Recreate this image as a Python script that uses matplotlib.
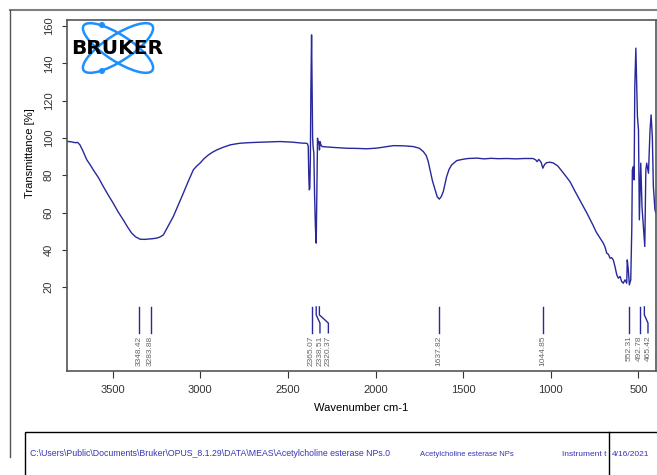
import matplotlib.pyplot as plt
import numpy as np
from matplotlib.patches import Ellipse, Circle, Rectangle
from matplotlib.lines import Line2D

plt.rcParams['font.family'] = ['Liberation Sans', 'DejaVu Sans']

# FTIR spectrum - Acetylcholine esterase NPs
wavenumber = [3762, 3740, 3715, 3700, 3687, 3670, 3648, 3630, 3611, 3580, 3554, 3525,
              3497, 3470, 3440, 3415, 3392, 3370, 3344, 3320, 3295, 3270, 3249, 3230,
              3211, 3185, 3154, 3125, 3097, 3070, 3040, 3020, 3002, 2980, 2954, 2930,
              2906, 2870, 2830, 2800, 2772, 2720, 2669, 2600, 2545, 2480, 2412, 2395,
              2388, 2384, 2381, 2378, 2375, 2372, 2369, 2365, 2362, 2359, 2356, 2352,
              2348, 2343, 2338.5, 2335, 2331, 2327, 2323, 2320, 2316, 2312, 2305, 2250,
              2164, 2100, 2050, 1990, 1940, 1898, 1840, 1784, 1750, 1727, 1710, 1699,
              1689, 1675, 1660, 1648, 1636, 1625, 1613, 1594, 1580, 1565, 1536, 1500,
              1472, 1420, 1380, 1340, 1300, 1250, 1200, 1150, 1101, 1085, 1078, 1068,
              1055, 1045, 1035, 1022, 1004, 985, 960, 930, 890, 860, 830, 794,
              760, 740, 718, 700, 690, 680, 670, 661, 652, 643, 633, 623,
              614, 604, 595, 586, 576, 566, 563, 557, 551, 543, 537, 534,
              528, 524, 520, 514, 510, 505, 499, 494, 486, 479, 471, 463,
              457, 452, 442, 433, 427, 420, 414, 405, 399]
transmittance = [98.2, 98.0, 97.5, 97.6, 96.3, 93.0, 88.3, 85.8, 82.9, 78.5, 74.0, 69.3,
                 65.0, 60.5, 56.1, 52.2, 49.0, 47.0, 45.7, 45.6, 45.8, 46.0, 46.3, 46.9,
                 48.0, 52.5, 57.9, 64.2, 70.4, 76.5, 82.9, 85.0, 86.5, 88.8, 90.9, 92.4,
                 93.6, 95.0, 96.3, 96.8, 97.2, 97.5, 97.7, 97.9, 98.1, 97.8, 97.2, 97.2,
                 96.8, 95.5, 80.0, 72.2, 73.0, 88.0, 125.0, 155.3, 128.0, 100.0, 95.0, 92.0,
                 70.0, 52.0, 43.6, 70.0, 99.9, 97.0, 98.0, 93.6, 98.0, 96.3, 95.4, 95.0,
                 94.5, 94.4, 94.2, 94.6, 95.3, 95.9, 95.8, 95.4, 94.5, 92.7, 90.5, 87.3,
                 82.9, 77.0, 72.2, 68.5, 67.2, 68.5, 71.3, 79.3, 83.2, 85.6, 87.9, 88.6,
                 89.0, 89.2, 88.8, 89.1, 88.9, 89.0, 88.8, 89.0, 89.0, 88.2, 87.3, 88.5,
                 87.0, 83.8, 85.8, 86.8, 87.0, 86.6, 85.0, 81.5, 76.6, 71.2, 66.0, 59.8,
                 53.5, 49.5, 46.3, 43.6, 41.5, 38.2, 37.5, 35.5, 35.8, 34.6, 31.0, 26.6,
                 24.8, 25.7, 23.0, 22.1, 23.9, 22.1, 34.6, 29.3, 21.2, 23.9, 52.5, 82.9,
                 84.7, 77.5, 127.6, 148.2, 131.2, 111.5, 104.4, 56.1, 86.5, 63.2, 52.5, 41.8,
                 82.9, 86.5, 81.1, 104.4, 112.4, 100.8, 74.0, 61.4, 59.7]

# picked peaks
peak_wn = [3348.42, 3283.88, 2365.07, 2338.51, 2320.37, 1637.82, 1044.85, 552.31, 492.78, 465.42]

x_ticks = [3500, 3000, 2500, 2000, 1500, 1000, 500]
y_ticks = [20, 40, 60, 80, 100, 120, 140, 160]

file_path = r'C:\Users\Public\Documents\Bruker\OPUS_8.1.29\DATA\MEAS\Acetylcholine esterase NPs.0'
sample_name = 'Acetylcholine esterase NPs'
instrument = 'Instrument t'
meas_date = '4/16/2021'

W, H = 657, 475
curve_color = '#28289c'
info_color = '#3535b5'

fig = plt.figure(figsize=(W / 100, H / 100), dpi=100)
ax = fig.add_axes([67 / W, 1 - 371 / H, 589 / W, 351 / H])

ax.plot(wavenumber, transmittance, color=curve_color, lw=1.0)
ax.set_xlim(3761, 399)
ax.set_ylim(-25, 163.3)
ax.set_xticks(x_ticks)
ax.set_yticks(y_ticks)
ax.tick_params(axis='both', labelsize=8, colors='#333333', direction='out')
ax.tick_params(axis='x', length=5, pad=5)
ax.tick_params(axis='y', length=3.6, pad=6, labelrotation=90)
for lbl in ax.get_yticklabels():
    lbl.set_va('center')
for sp in ax.spines.values():
    sp.set_color('#555555')
    sp.set_linewidth(1.2)
ax.set_xlabel('Wavenumber cm-1', fontsize=8, labelpad=6)
ax.set_ylabel('Transmittance [%]', fontsize=8)
ax.yaxis.set_label_coords(-0.055, 0.621)

# peak markers, labels pushed apart when too close
min_gap = 48
label_pos = []
for w in peak_wn:
    if label_pos and label_pos[-1] - w < min_gap:
        label_pos.append(min(w, label_pos[-1] - min_gap))
    else:
        label_pos.append(w)
for w, p in zip(peak_wn, label_pos):
    ax.plot([w, w, p, p], [9.4, 5.1, 0.7, -4.5], color=curve_color, lw=1.0)
    ax.text(p, -6.0, '%.2f' % w, rotation=90, ha='center', va='top',
            fontsize=6, color='#666666')

# Bruker logo
lax = fig.add_axes([68 / W, 1 - 76 / H, 100 / W, 56 / H])
lax.set_xlim(0, 100)
lax.set_ylim(0, 56)
lax.axis('off')
for ang in (33, -33):
    lax.add_patch(Ellipse((50, 28), 82, 26, angle=ang, fill=False,
                          ec='#1e8fff', lw=1.8))
lax.add_patch(Circle((34, 51), 2.3, color='#1e8fff'))
lax.add_patch(Circle((34, 5), 2.3, color='#1e8fff'))
lax.text(49, 28, 'BRUKER', ha='center', va='center', fontsize=14.5,
         fontweight='heavy', family='DejaVu Sans', color='black', zorder=5)

# page frame
fig.add_artist(Line2D([10 / W, 1], [1 - 10 / H, 1 - 10 / H], color='#808080', lw=1.5))
fig.add_artist(Line2D([10 / W, 10 / W], [1 - 10 / H, 1 - 457 / H], color='#555555', lw=1.0))

# info box
fig.add_artist(Rectangle((25 / W, -0.05), 1, 1 - 432 / H + 0.05, fill=False,
                         ec='black', lw=1.0, transform=fig.transFigure))
fig.add_artist(Line2D([609 / W, 609 / W], [0, 1 - 432 / H], color='black', lw=1.0))
ty = 1 - 454 / H
fig.text(30 / W, ty, file_path, fontsize=6.3, color=info_color, va='center')
fig.text(420 / W, ty, sample_name, fontsize=5.5, color=info_color, va='center')
fig.text(606 / W, ty, instrument, fontsize=6.0, color=info_color, va='center', ha='right')
fig.text(612 / W, ty, meas_date, fontsize=6, color=info_color, va='center')

fig.savefig('out.png', dpi=100)
